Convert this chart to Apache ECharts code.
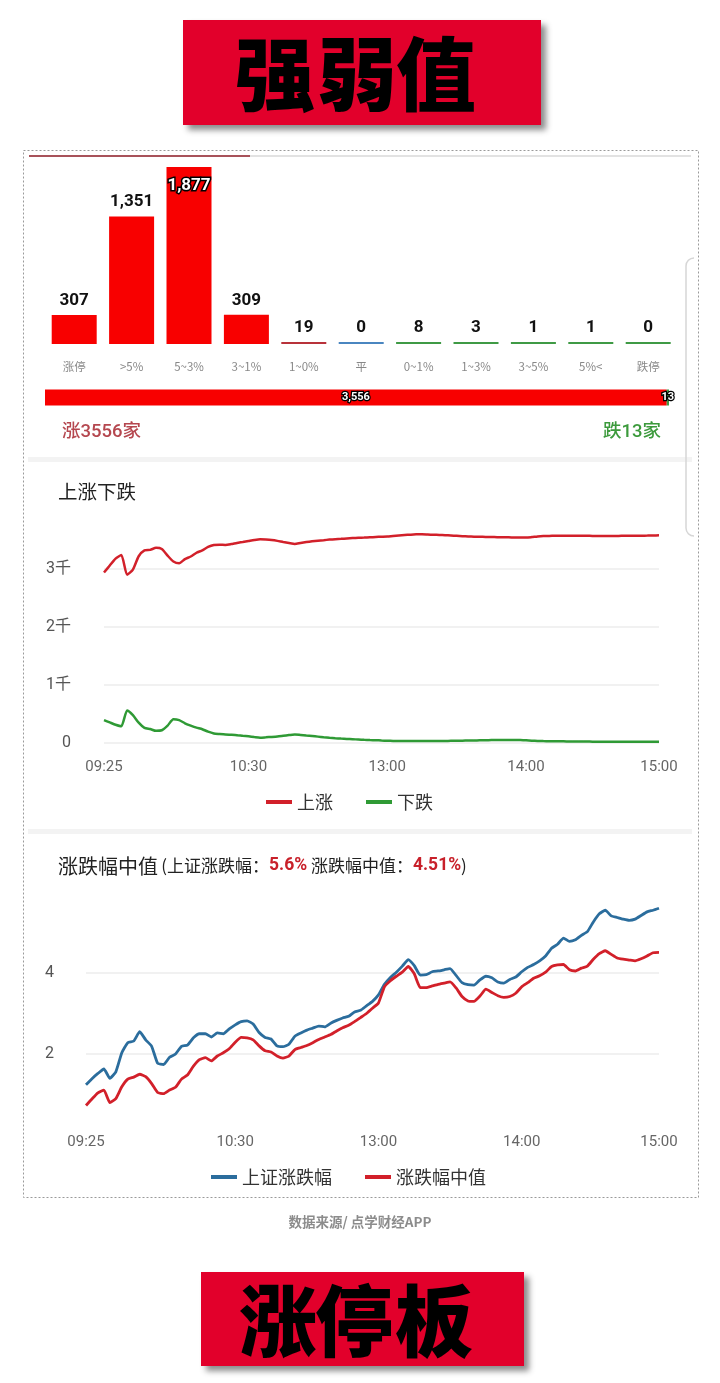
<!DOCTYPE html>
<html>
<head>
<meta charset="utf-8">
<script src="https://cdn.jsdelivr.net/npm/echarts@6/dist/echarts.min.js"></script>
<style>
html,body{margin:0;padding:0;background:#fff;}
#c{width:720px;height:1383px;}
</style>
</head>
<body>
<div id="c"></div>
<script>
// ---------- data ----------
const barCategories = ['涨停', '>5%', '5~3%', '3~1%', '1~0%', '平', '0~1%', '1~3%', '3~5%', '5%<', '跌停'];
const barValues = [307, 1351, 1877, 309, 19, 0, 8, 3, 1, 1, 0];
const upTotal = 3556;
const downTotal = 13;
const shIndexFinal = '5.6%';
const medianFinal = '4.51%';
const timeTickLabels = ['09:25', '10:30', '13:00', '14:00', '15:00'];
const timeTickIndex = [0, 25, 49, 73, 96];

const upCount = [2940,3060,3180,3240,2900,2990,3220,3320,3330,3365,
  3345,3230,3130,3100,3170,3215,3280,3320,3380,3415,
  3420,3415,3430,3450,3466,3483,3500,3512,3508,3500,
  3485,3465,3448,3432,3450,3465,3478,3488,3497,3507,
  3514,3520,3527,3533,3538,3542,3547,3552,3556,3560,
  3570,3578,3585,3592,3597,3597,3594,3591,3588,3584,
  3578,3572,3566,3561,3558,3556,3553,3551,3549,3547,
  3546,3543,3541,3541,3550,3562,3569,3571,3572,3573,
  3574,3575,3575,3574,3572,3570,3569,3569,3570,3571,
  3573,3574,3575,3575,3576,3578,3580];
const downCount = [395,355,315,290,560,480,350,260,240,210,
  220,300,410,395,340,300,265,238,195,165,
  155,146,141,135,124,115,103,92,98,105,
  113,125,137,148,138,128,120,110,100,91,
  83,76,70,65,60,55,51,48,43,39,
  36,35,34,34,34,34,34,34,35,36,
  37,38,40,42,44,46,48,50,51,52,
  52,52,50,46,40,36,33,31,30,29,
  28,27,26,25,24,23,23,23,22,22,
  22,21,21,21,20,20,20];
const shIndexChange = [1.24,1.39,1.52,1.63,1.40,1.56,2.03,2.28,2.32,2.55,
  2.35,2.19,1.77,1.74,1.92,2.00,2.19,2.22,2.40,2.50,
  2.50,2.42,2.52,2.50,2.62,2.72,2.80,2.82,2.74,2.53,
  2.41,2.37,2.20,2.18,2.24,2.44,2.52,2.59,2.64,2.69,
  2.67,2.76,2.83,2.89,2.93,3.04,3.08,3.19,3.30,3.46,
  3.72,3.89,4.02,4.17,4.33,4.18,3.95,3.96,4.03,4.05,
  4.08,4.11,3.94,3.76,3.71,3.70,3.83,3.92,3.88,3.78,
  3.75,3.84,3.90,4.03,4.14,4.21,4.30,4.42,4.61,4.71,
  4.86,4.78,4.82,4.93,5.02,5.26,5.46,5.55,5.41,5.37,
  5.33,5.30,5.33,5.42,5.51,5.55,5.60];
const medianChange = [0.73,0.89,1.04,1.11,0.80,0.90,1.19,1.38,1.43,1.50,
  1.44,1.27,1.05,1.02,1.11,1.18,1.38,1.48,1.70,1.86,
  1.91,1.83,1.95,2.03,2.13,2.29,2.41,2.40,2.35,2.20,
  2.08,2.05,1.95,1.90,1.95,2.11,2.16,2.21,2.28,2.36,
  2.42,2.48,2.57,2.65,2.71,2.80,2.90,3.00,3.13,3.26,
  3.66,3.81,3.92,4.02,4.16,3.98,3.64,3.64,3.68,3.72,
  3.75,3.78,3.63,3.42,3.31,3.30,3.43,3.60,3.52,3.44,
  3.40,3.42,3.50,3.66,3.76,3.87,3.93,4.02,4.16,4.20,
  4.21,4.08,4.05,4.12,4.17,4.34,4.48,4.55,4.46,4.37,
  4.34,4.32,4.30,4.35,4.42,4.50,4.51];

// time categories (sample slots); tick slots carry the tick labels
const timeCategories = upCount.map((v, i) => 'T' + i);
timeTickIndex.forEach((idx, k) => { timeCategories[idx] = timeTickLabels[k]; });

// ---------- styles ----------
const CJK = '"Noto Sans CJK SC", sans-serif';
const NUM = 'Roboto, "Noto Sans CJK SC", sans-serif';
const barColorList = ['#f80000','#f80000','#f80000','#f80000','#b8323a','#4a86c0','#3f9a45','#3f9a45','#3f9a45','#3f9a45','#3f9a45'];
const RED_LINE = '#d2202a';
const GREEN_LINE = '#2f9a35';
const BLUE_LINE = '#2b6d9d';
const BANNER = '#e2002b';

const barData = barValues.map((v, i) => {
  const item = { value: v, itemStyle: { color: barColorList[i] } };
  if (i === 2) {
    item.label = { position: 'insideTop', distance: 10, color: '#fff', textBorderColor: '#000', textBorderWidth: 3 };
  }
  return item;
});

const tickFilter = idx => timeTickIndex.indexOf(idx) >= 0;

const chart = echarts.init(document.getElementById('c'), null, { renderer: 'canvas' });

const option = {
  backgroundColor: '#fff',
  animation: false,
  grid: [
    { left: 45.5, top: 167, width: 631.4, height: 177 },
    { left: 45, top: 389.5, width: 624, height: 16 },
    { left: 104, top: 511, width: 555, height: 232 },
    { left: 86, top: 892, width: 573, height: 243 }
  ],
  xAxis: [
    { gridIndex: 0, type: 'category', data: barCategories,
      axisLine: { show: false }, axisTick: { show: false },
      axisLabel: { color: '#888', fontSize: 11.5, margin: 17, fontFamily: CJK } },
    { gridIndex: 1, type: 'value', min: 0, max: upTotal + downTotal, show: false },
    { gridIndex: 2, type: 'category', data: timeCategories, boundaryGap: false,
      axisLine: { show: false }, axisTick: { show: false },
      axisLabel: { interval: tickFilter, color: '#666', fontSize: 15, margin: 17, fontFamily: NUM } },
    { gridIndex: 3, type: 'category', data: timeCategories, boundaryGap: false,
      axisLine: { show: false }, axisTick: { show: false },
      axisLabel: { interval: tickFilter, color: '#666', fontSize: 15, margin: 0, fontFamily: NUM } }
  ],
  yAxis: [
    { gridIndex: 0, type: 'value', min: 0, max: 1877, show: false },
    { gridIndex: 1, type: 'category', data: ['total'], show: false },
    { gridIndex: 2, type: 'value', min: 0, max: 4000, interval: 1000,
      axisLine: { show: false }, axisTick: { show: false },
      axisLabel: { color: '#555', fontSize: 16, margin: 33, fontFamily: NUM, showMaxLabel: false,
        formatter: v => v === 0 ? '0' : (v / 1000) + '千' },
      splitLine: { showMaxLine: false, lineStyle: { color: '#ececec', width: 1.5 } } },
    { gridIndex: 3, type: 'value', min: 0, max: 6, interval: 2,
      axisLine: { show: false }, axisTick: { show: false },
      axisLabel: { color: '#555', fontSize: 16, margin: 32, fontFamily: NUM, showMinLabel: false, showMaxLabel: false },
      splitLine: { showMinLine: false, showMaxLine: false, lineStyle: { color: '#ececec', width: 1.5 } } }
  ],
  legend: [
    { data: ['上涨', '下跌'], left: 261, top: 788, icon: 'rect', itemWidth: 26, itemHeight: 4, itemGap: 33,
      textStyle: { fontSize: 18, color: '#333', fontFamily: CJK } },
    { data: ['上证涨跌幅', '涨跌幅中值'], left: 206, top: 1163, icon: 'rect', itemWidth: 26, itemHeight: 4, itemGap: 33,
      textStyle: { fontSize: 18, color: '#333', fontFamily: CJK } }
  ],
  series: [
    { type: 'bar', name: 'dist', xAxisIndex: 0, yAxisIndex: 0, data: barData, barWidth: 45, barMinHeight: 2,
      label: { show: true, position: 'top', distance: 6, fontSize: 17, fontWeight: 'bold', color: '#111', fontFamily: NUM,
        formatter: p => Number(p.value).toLocaleString('en-US') } },
    { type: 'bar', name: 'upBar', xAxisIndex: 1, yAxisIndex: 1, stack: 'p', barWidth: 16, data: [upTotal],
      itemStyle: { color: '#f80000' },
      label: { show: true, position: 'inside', color: '#fff', textBorderColor: '#000', textBorderWidth: 2.5,
        fontSize: 11, fontWeight: 'bold', fontFamily: NUM, formatter: p => Number(p.value).toLocaleString('en-US') } },
    { type: 'bar', name: 'downBar', xAxisIndex: 1, yAxisIndex: 1, stack: 'p', barWidth: 16, data: [downTotal],
      itemStyle: { color: '#3f9a45' },
      label: { show: true, position: 'inside', color: '#fff', textBorderColor: '#000', textBorderWidth: 2.5,
        fontSize: 11, fontWeight: 'bold', fontFamily: NUM, formatter: p => String(p.value) } },
    { type: 'line', name: '上涨', xAxisIndex: 2, yAxisIndex: 2, data: upCount, symbol: 'none', smooth: 0.2,
      color: RED_LINE, lineStyle: { color: RED_LINE, width: 2.5 } },
    { type: 'line', name: '下跌', xAxisIndex: 2, yAxisIndex: 2, data: downCount, symbol: 'none', smooth: 0.2,
      color: GREEN_LINE, lineStyle: { color: GREEN_LINE, width: 2.5 } },
    { type: 'line', name: '上证涨跌幅', xAxisIndex: 3, yAxisIndex: 3, data: shIndexChange, symbol: 'none', smooth: 0.15,
      color: BLUE_LINE, lineStyle: { color: BLUE_LINE, width: 2.8 } },
    { type: 'line', name: '涨跌幅中值', xAxisIndex: 3, yAxisIndex: 3, data: medianChange, symbol: 'none', smooth: 0.15,
      color: RED_LINE, lineStyle: { color: RED_LINE, width: 2.8 } }
  ],
  graphic: { elements: [
    // top banner
    { type: 'rect', z: 1, shape: { x: 183, y: 20, width: 358, height: 105 },
      style: { fill: BANNER, shadowBlur: 6, shadowOffsetX: 5, shadowOffsetY: 5, shadowColor: 'rgba(0,0,0,0.45)' } },
    { type: 'text', z: 2, x: 275, y: 74, style: { text: '强', fontSize: 80, fontWeight: 900, fontFamily: CJK, fill: '#000', align: 'center', verticalAlign: 'middle' } },
    { type: 'text', z: 2, x: 357, y: 74, style: { text: '弱', fontSize: 80, fontWeight: 900, fontFamily: CJK, fill: '#000', align: 'center', verticalAlign: 'middle' } },
    { type: 'text', z: 2, x: 436, y: 74, style: { text: '值', fontSize: 80, fontWeight: 900, fontFamily: CJK, fill: '#000', align: 'center', verticalAlign: 'middle' } },
    // dotted frame
    { type: 'rect', z: 1, shape: { x: 23.5, y: 150.5, width: 675, height: 1047 },
      style: { fill: null, stroke: '#9a9a9a', lineWidth: 1, lineDash: [2, 2] } },
    // tab indicator line
    { type: 'line', z: 1, shape: { x1: 29, y1: 156, x2: 691, y2: 156 }, style: { stroke: '#e2e2e2', lineWidth: 2 } },
    { type: 'line', z: 2, shape: { x1: 29, y1: 156, x2: 250, y2: 156 }, style: { stroke: '#a8525a', lineWidth: 2 } },
    // section separators
    { type: 'rect', z: 1, shape: { x: 28, y: 457, width: 664, height: 5 }, style: { fill: '#f3f3f3' } },
    { type: 'rect', z: 1, shape: { x: 28, y: 829, width: 664, height: 5 }, style: { fill: '#f3f3f3' } },
    // side scroller edge
    { type: 'line', z: 1, shape: { x1: 686, y1: 266, x2: 686, y2: 528 }, style: { stroke: '#d6d6d6', lineWidth: 1.5 } },
    { type: 'arc', z: 1, shape: { cx: 694, cy: 266, r: 8, startAngle: Math.PI, endAngle: Math.PI * 1.5 }, style: { stroke: '#d6d6d6', lineWidth: 1.5, fill: null } },
    { type: 'arc', z: 1, shape: { cx: 694, cy: 528, r: 8, startAngle: Math.PI * 0.5, endAngle: Math.PI }, style: { stroke: '#d6d6d6', lineWidth: 1.5, fill: null } },
    // up / down totals
    { type: 'text', z: 2, x: 62, y: 432, style: { text: '涨' + upTotal + '家', fontSize: 18.5, fontFamily: NUM, fontWeight: 500, fill: '#b5474f', align: 'left', verticalAlign: 'middle' } },
    { type: 'text', z: 2, x: 661, y: 432, style: { text: '跌' + downTotal + '家', fontSize: 18.5, fontFamily: NUM, fontWeight: 500, fill: '#3c9a3c', align: 'right', verticalAlign: 'middle' } },
    // chart titles
    { type: 'text', z: 2, x: 58, y: 492, style: { text: '上涨下跌', fontSize: 19.5, fontFamily: CJK, fill: '#222', align: 'left', verticalAlign: 'middle' } },
    { type: 'text', z: 2, x: 58, y: 866, style: {
        text: '{a|涨跌幅中值} {b|(上证涨跌幅：}{c|' + shIndexFinal + '}{b| 涨跌幅中值：}{c|' + medianFinal + '}{b|)}',
        align: 'left', verticalAlign: 'middle',
        rich: {
          a: { fontSize: 20, fontFamily: CJK, fill: '#222' },
          b: { fontSize: 17, fontFamily: CJK, fill: '#222' },
          c: { fontSize: 17.5, fontFamily: NUM, fontWeight: 'bold', fill: '#c8202a' }
        } } },
    // footer
    { type: 'text', z: 2, x: 360, y: 1222, style: { text: '数据来源/ 点学财经APP', fontSize: 13.5, fontWeight: 'bold', fontFamily: CJK, fill: '#8c8c8c', align: 'center', verticalAlign: 'middle' } },
    // bottom banner
    { type: 'rect', z: 1, shape: { x: 201, y: 1272, width: 323, height: 94 },
      style: { fill: BANNER, shadowBlur: 6, shadowOffsetX: 5, shadowOffsetY: 5, shadowColor: 'rgba(0,0,0,0.45)' } },
    { type: 'text', z: 2, x: 278, y: 1321, style: { text: '涨', fontSize: 78, fontWeight: 900, fontFamily: CJK, fill: '#000', align: 'center', verticalAlign: 'middle' } },
    { type: 'text', z: 2, x: 354, y: 1321, style: { text: '停', fontSize: 78, fontWeight: 900, fontFamily: CJK, fill: '#000', align: 'center', verticalAlign: 'middle' } },
    { type: 'text', z: 2, x: 434, y: 1321, style: { text: '板', fontSize: 78, fontWeight: 900, fontFamily: CJK, fill: '#000', align: 'center', verticalAlign: 'middle' } }
  ] }
};

chart.setOption(option);
</script>
</body>
</html>
